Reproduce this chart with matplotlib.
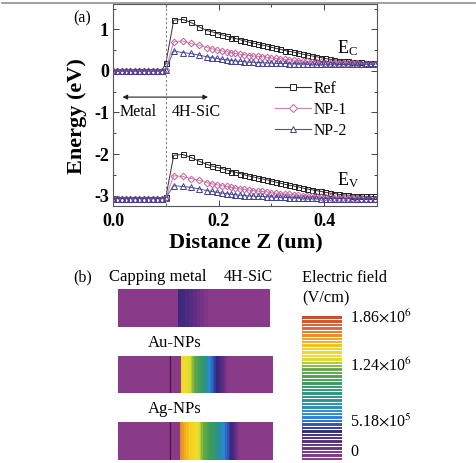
import numpy as np
import matplotlib
matplotlib.use('Agg')
import matplotlib.pyplot as plt
from matplotlib.colors import LinearSegmentedColormap
from matplotlib.lines import Line2D
from matplotlib.ticker import MultipleLocator

plt.rcParams['font.family'] = ['Liberation Serif', 'DejaVu Serif']
plt.rcParams['mathtext.fontset'] = 'stix'

# ---------------- data: panel (a) ----------------
z = [0.000, 0.008, 0.017, 0.025, 0.033, 0.042, 0.050, 0.058, 0.067, 0.075, 0.083, 0.092, 0.100,
     0.115, 0.132, 0.147, 0.163, 0.178, 0.188, 0.197, 0.206, 0.215, 0.224, 0.232, 0.241, 0.249, 0.258,
     0.266, 0.275, 0.283, 0.292, 0.300, 0.309, 0.317, 0.326, 0.334, 0.343, 0.351, 0.360, 0.368, 0.377,
     0.385, 0.394, 0.402, 0.411, 0.419, 0.428, 0.436, 0.445, 0.453, 0.462, 0.470, 0.479, 0.487, 0.496]

metal_ec = [0.00] * 12
metal_ev = [-3.07] * 12

ref_ec = metal_ec + [0.18,
    1.22, 1.24, 1.17, 1.06, 0.97, 0.94, 0.90, 0.87, 0.84, 0.80,
    0.78, 0.75, 0.72, 0.69, 0.67, 0.64, 0.62, 0.60, 0.57, 0.54,
    0.52, 0.49, 0.47, 0.45, 0.43, 0.40, 0.38, 0.36, 0.34, 0.32,
    0.30, 0.28, 0.27, 0.25, 0.24, 0.23, 0.22, 0.21, 0.21, 0.20,
    0.20, 0.20]
ref_ev = metal_ev + [-3.04,
    -2.03, -2.01, -2.08, -2.17, -2.25, -2.29, -2.32, -2.35, -2.38, -2.42,
    -2.44, -2.47, -2.50, -2.53, -2.55, -2.58, -2.60, -2.62, -2.65, -2.68,
    -2.70, -2.73, -2.75, -2.77, -2.79, -2.82, -2.84, -2.86, -2.88, -2.90,
    -2.92, -2.94, -2.95, -2.97, -2.98, -2.99, -3.00, -3.01, -3.01, -3.02,
    -3.02, -3.02]
np1_ec = metal_ec + [0.03,
    0.70, 0.72, 0.66, 0.62, 0.56, 0.53, 0.50, 0.48, 0.46, 0.44,
    0.42, 0.40, 0.39, 0.37, 0.36, 0.35, 0.34, 0.33, 0.31, 0.30,
    0.29, 0.28, 0.27, 0.26, 0.25, 0.24, 0.23, 0.22, 0.22, 0.21,
    0.20, 0.20, 0.19, 0.19, 0.18, 0.18, 0.18, 0.18, 0.17, 0.17,
    0.17, 0.17]
np1_ev = metal_ev + [-3.05,
    -2.52, -2.54, -2.59, -2.63, -2.69, -2.72, -2.74, -2.76, -2.78, -2.80,
    -2.82, -2.84, -2.85, -2.87, -2.88, -2.89, -2.90, -2.91, -2.93, -2.94,
    -2.95, -2.96, -2.97, -2.98, -2.99, -3.00, -3.01, -3.02, -3.02, -3.03,
    -3.04, -3.04, -3.05, -3.05, -3.06, -3.06, -3.06, -3.06, -3.07, -3.07,
    -3.07, -3.07]
np2_ec = metal_ec + [0.03,
    0.48, 0.44, 0.42, 0.38, 0.34, 0.32, 0.30, 0.28, 0.27, 0.25,
    0.24, 0.23, 0.22, 0.21, 0.21, 0.20, 0.20, 0.19, 0.19, 0.18,
    0.18, 0.18, 0.17, 0.17, 0.17, 0.17, 0.16, 0.16, 0.16, 0.16,
    0.16, 0.16, 0.16, 0.16, 0.16, 0.16, 0.16, 0.16, 0.16, 0.16,
    0.16, 0.16]
np2_ev = metal_ev + [-3.05,
    -2.76, -2.78, -2.80, -2.84, -2.88, -2.90, -2.92, -2.94, -2.95, -2.97,
    -2.98, -2.99, -3.00, -3.01, -3.01, -3.02, -3.02, -3.03, -3.03, -3.04,
    -3.04, -3.04, -3.05, -3.05, -3.05, -3.06, -3.06, -3.06, -3.06, -3.07,
    -3.07, -3.07, -3.07, -3.07, -3.07, -3.07, -3.07, -3.07, -3.07, -3.07,
    -3.07, -3.07]

series_names = ['Ref', 'NP-1', 'NP-2']

# ---------------- data: panel (b) ----------------
bar_labels = ['', 'Au-NPs', 'Ag-NPs']
ref_pos = [0.0, 0.393, 0.395, 0.45, 0.507, 0.56, 0.618, 1.0]
ref_field = [0, 0, 3.6e5, 3.0e5, 2.0e5, 1.0e5, 0, 0]
au_pos = [0.0, 0.404, 0.406, 0.465, 0.510, 0.561, 0.594, 0.632, 0.684, 0.710, 1.0]
au_field = [0, 0, 1.42e6, 1.30e6, 1.10e6, 0.85e6, 0.57e6, 0.40e6, 0.20e6, 0, 0]
ag_pos = [0.0, 0.398, 0.400, 0.439, 0.503, 0.574, 0.639, 0.684, 0.723, 0.761, 0.787, 1.0]
ag_field = [0, 0, 1.65e6, 1.50e6, 1.38e6, 1.10e6, 0.85e6, 0.57e6, 0.40e6, 0.20e6, 0, 0]
field_max = 1.86e6
cbar_ticks = [0, 5.18e5, 1.24e6, 1.86e6]
cbar_ticklabels = ['0', r'5.18$\times$10$^{5}$', r'1.24$\times$10$^{6}$', r'1.86$\times$10$^{6}$']

W, H = 477, 463
fig = plt.figure(figsize=(W / 100, H / 100), dpi=100)

def fr(x0, y0, x1, y1):
    return [x0 / W, 1 - y1 / H, (x1 - x0) / W, (y1 - y0) / H]

# page border line at top
fig.add_artist(Line2D([2 / W, 475 / W], [1 - 2.5 / H] * 2, color='#9a9a9a', lw=1.3))

# ---------------- panel (a) ----------------
ax = fig.add_axes(fr(113, 4, 377, 206))
styles = [
    dict(marker='s', ms=3.6, mec='#202020', color='#303030'),
    dict(marker='D', ms=3.4, mec='#c8609c', color='#d080b4'),
    dict(marker='^', ms=3.8, mec='#40409a', color='#505098'),
]
for (ec, ev), st in zip([(ref_ec, ref_ev), (np1_ec, np1_ev), (np2_ec, np2_ev)], styles):
    for vals in (ec, ev):
        ax.plot(z, vals, lw=0.7, marker=st['marker'], ms=st['ms'], mfc='none',
                mec=st['mec'], mew=0.7, color=st['color'])

ax.axvline(0.1, color='#808080', ls=(0, (2, 2)), lw=0.8)
ax.set_xlim(0, 0.5)
ax.set_ylim(-3.25, 1.61)
ax.set_xticks([0, 0.2, 0.4], labels=['0.0', '0.2', '0.4'], fontweight='bold', fontsize=13)
ax.set_yticks([-3, -2, -1, 0, 1], labels=['-3', '-2', '-1', '0', '1'], fontweight='bold', fontsize=13)
ax.xaxis.set_minor_locator(MultipleLocator(0.1))
ax.yaxis.set_minor_locator(MultipleLocator(0.5))
ax.tick_params(which='both', direction='in', top=True, right=True, width=0.7, colors='#444444',
               labelcolor='black')
ax.tick_params(which='major', length=4)
ax.tick_params(which='minor', length=2.5)
ax.tick_params(axis='y', pad=3)
ax.tick_params(axis='x', pad=5)
for s in ax.spines.values():
    s.set_linewidth(0.8)
    s.set_color('#555555')

handles = [Line2D([], [], lw=0.8, marker=st['marker'], ms=st['ms'] + 0.3, mfc='white',
                  mec=st['mec'], mew=0.7, color=st['color']) for st in styles]
ax.legend(handles, series_names, loc='upper left', bbox_to_anchor=(0.615, 0.62), frameon=False,
          fontsize=11.3, handlelength=2.3, handletextpad=0.15, labelspacing=0.32,
          borderpad=0, borderaxespad=0)

ax.annotate('', xy=(0.018, -0.63), xytext=(0.18, -0.63),
            arrowprops=dict(arrowstyle='<|-|>', lw=0.8, color='#222222', mutation_scale=7,
                            shrinkA=0, shrinkB=0))
ax.text(0.047, -1.0, 'Metal', ha='center', va='center', fontsize=11.5)
ax.text(0.157, -1.0, '4H-SiC', ha='center', va='center', fontsize=11.5)
ax.text(0.445, 0.55, r'E$_\mathregular{C}$', ha='center', va='center', fontsize=13)
ax.text(0.445, -2.63, r'E$_\mathregular{V}$', ha='center', va='center', fontsize=13)

fig.text(82 / W, 1 - 18 / H, '(a)', ha='center', va='center', fontsize=11.5)
fig.text(77 / W, 1 - 116 / H, 'Energy (eV)', ha='center', va='center', rotation=90,
         fontsize=16, fontweight='bold')
fig.text(246 / W, 1 - 242 / H, 'Distance Z (um)', ha='center', va='center',
         fontsize=16, fontweight='bold')

# ---------------- panel (b) ----------------
cmap = LinearSegmentedColormap.from_list('efield', [
    (0.0, '#8e3c88'), (0.081, '#6e3088'), (0.15, '#4c2a80'), (0.199, '#352878'),
    (0.247, '#3050b0'), (0.306, '#2a86e0'), (0.366, '#2a8cb8'), (0.435, '#2a9090'),
    (0.538, '#3a9a5a'), (0.629, '#60a845'), (0.677, '#a8c83a'), (0.71, '#e8e030'),
    (0.769, '#f5d51e'), (0.844, '#f0a020'), (0.914, '#e0682a'), (1.0, '#c8452a')])
levels = np.linspace(0, field_max, 43)

bar_rects = [(118, 289, 270, 327), (118, 356, 273, 393), (118, 422, 273, 460)]
profiles = [(ref_pos, ref_field), (au_pos, au_field), (ag_pos, ag_field)]
cs = None
for i, (rect, (pos, fld)) in enumerate(zip(bar_rects, profiles)):
    bax = fig.add_axes(fr(*rect))
    cs = bax.contourf(pos, [0, 1], [fld, fld], levels=levels, cmap=cmap,
                      vmin=0, vmax=field_max, antialiased=False)
    if i > 0:
        bax.axvline(0.335, color='#4a1848', lw=0.9)
    bax.set_xlim(0, 1)
    bax.set_ylim(0, 1)
    bax.axis('off')

fig.text(83 / W, 1 - 277 / H, '(b)', ha='center', va='center', fontsize=11.5)
fig.text(158 / W, 1 - 277 / H, 'Capping metal', ha='center', va='center', fontsize=12)
fig.text(248 / W, 1 - 277 / H, '4H-SiC', ha='center', va='center', fontsize=11.5)
fig.text(175 / W, 1 - 343 / H, bar_labels[1], ha='center', va='center', fontsize=12)
fig.text(175 / W, 1 - 409 / H, bar_labels[2], ha='center', va='center', fontsize=12)
fig.text(302 / W, 1 - 278 / H, 'Electric field', ha='left', va='center', fontsize=11.8)
fig.text(302 / W, 1 - 298 / H, '(V/cm)', ha='left', va='center', fontsize=11.8)

cax = fig.add_axes(fr(302, 316, 342, 460))
cbar = fig.colorbar(cs, cax=cax, ticks=cbar_ticks, drawedges=True)
cbar.ax.set_yticklabels(cbar_ticklabels)
cbar.outline.set_visible(False)
cbar.dividers.set_color('white')
cbar.dividers.set_linewidth(0.8)
cbar.ax.tick_params(length=0, pad=6, labelsize=11.5)
cbar.ax.get_yticklabels()[0].set_verticalalignment('bottom')

fig.savefig('out.png', dpi=100)
